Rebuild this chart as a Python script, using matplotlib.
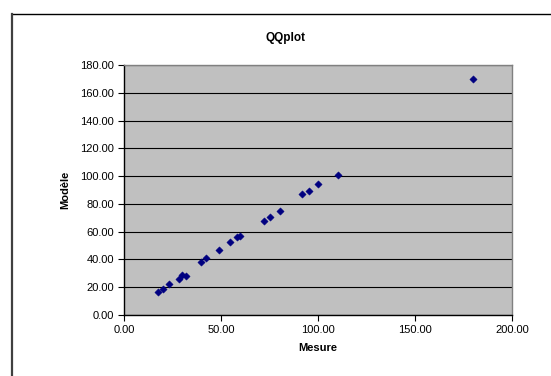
import matplotlib
matplotlib.use("Agg")
import matplotlib.pyplot as plt
from matplotlib.lines import Line2D

plt.rcParams['font.family'] = ['Liberation Sans', 'DejaVu Sans']

# Measured vs. modelled quantiles
mesure = [17.7, 19.9, 23.0, 28.2, 29.9, 31.9, 39.8, 42.3, 49.1, 54.8,
          58.2, 59.9, 72.2, 75.1, 80.3, 91.8, 95.2, 99.9, 110.2, 179.7]
modele = [16.8, 18.7, 22.1, 25.9, 28.6, 27.9, 37.9, 41.0, 47.0, 52.8,
          55.9, 56.7, 67.9, 70.3, 74.9, 87.3, 89.3, 94.1, 100.6, 169.7]

x_ticks = [0, 50, 100, 150, 200]
y_ticks = [0, 20, 40, 60, 80, 100, 120, 140, 160, 180]

W, H = 551, 376
fig = plt.figure(figsize=(W / 100, H / 100), dpi=100)
fig.patch.set_facecolor('white')

# Chart-area frame (top and left edges)
fig.add_artist(Line2D([12 / W, 550 / W], [1 - 14.3 / H, 1 - 14.3 / H],
                      transform=fig.transFigure, color='black', lw=1.0))
fig.add_artist(Line2D([12 / W, 12 / W], [0, 1 - 14.3 / H],
                      transform=fig.transFigure, color='#404040', lw=1.6))

ax = fig.add_axes([124 / W, 1 - 315 / H, (512 - 124) / W, (315 - 65) / H])
ax.set_facecolor('#C0C0C0')

ax.scatter(mesure, modele, marker='D', s=14, color='#000080',
           edgecolors='#000080', linewidths=0.3, zorder=3)

ax.set_xlim(0, 200)
ax.set_ylim(0, 180)
ax.set_xticks(x_ticks)
ax.set_yticks(y_ticks)
ax.set_xticklabels([f"{v:.2f}" for v in x_ticks])
ax.set_yticklabels([f"{v:.2f}" for v in y_ticks])

ax.yaxis.grid(True, color='black', lw=0.8)
ax.set_axisbelow(True)

for side in ('top', 'right'):
    ax.spines[side].set_color('#808080')
    ax.spines[side].set_linewidth(1.0)
for side in ('left', 'bottom'):
    ax.spines[side].set_color('black')
    ax.spines[side].set_linewidth(1.0)

ax.tick_params(axis='both', direction='out', length=4, width=0.8,
               labelsize=8, colors='black', pad=3)

ax.set_xlabel('Mesure', fontsize=8, fontweight='bold', labelpad=6)
ax.set_ylabel('Modèle', fontsize=8, fontweight='bold', labelpad=7)

fig.text(285 / W, 1 - 38 / H, 'QQplot', ha='center', va='center',
         fontsize=8.5, fontweight='bold')

fig.savefig('out.png', dpi=100)
